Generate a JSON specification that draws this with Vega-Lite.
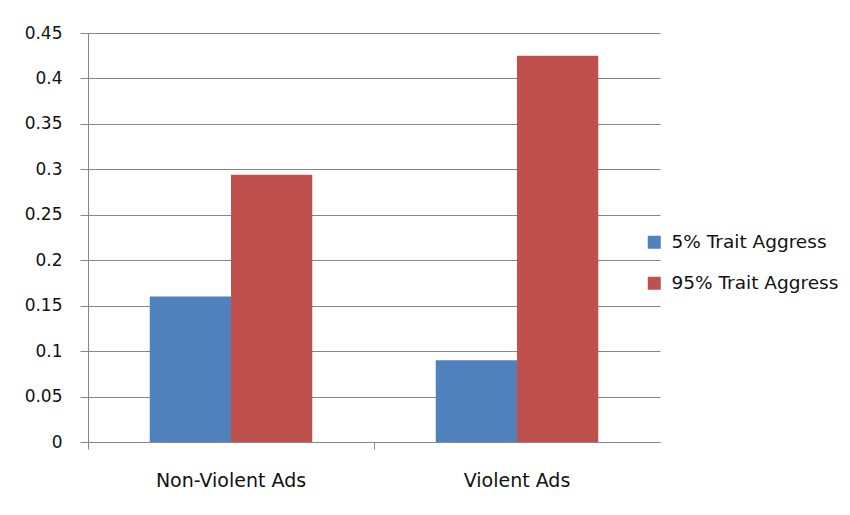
{
  "$schema": "https://vega.github.io/schema/vega-lite/v6.json",
  "autosize": "none",
  "width": 572,
  "height": 409,
  "padding": {"left": 88, "top": 33, "right": 190, "bottom": 73},
  "background": "white",
  "data": {
    "values": [
      {"ad": "Non-Violent Ads", "group": "5% Trait Aggress", "value": 0.16},
      {"ad": "Non-Violent Ads", "group": "95% Trait Aggress", "value": 0.294},
      {"ad": "Violent Ads", "group": "5% Trait Aggress", "value": 0.09},
      {"ad": "Violent Ads", "group": "95% Trait Aggress", "value": 0.425}
    ]
  },
  "mark": {"type": "bar"},
  "encoding": {
    "x": {
      "field": "ad", "type": "nominal", "title": null,
      "scale": {"paddingInner": 0, "paddingOuter": 0},
      "axis": {"labelAngle": 0, "bandPosition": 0, "tickSize": 7, "labelPadding": 22, "labelFontSize": 19, "grid": false}
    },
    "xOffset": {
      "field": "group", "type": "nominal",
      "scale": {"paddingInner": 0, "paddingOuter": 0.76}
    },
    "y": {
      "field": "value", "type": "quantitative", "title": null,
      "scale": {"domain": [0, 0.45]},
      "axis": {"values": [0, 0.05, 0.1, 0.15, 0.2, 0.25, 0.3, 0.35, 0.4, 0.45], "format": "~g", "tickSize": 8, "labelPadding": 18, "grid": true}
    },
    "color": {
      "field": "group", "type": "nominal",
      "scale": {"domain": ["5% Trait Aggress", "95% Trait Aggress"], "range": ["#4F81BD", "#C0504D"]},
      "legend": {"title": null, "orient": "none", "legendX": 557, "legendY": 200, "symbolType": "square", "symbolSize": 169, "symbolStrokeWidth": 0, "rowPadding": 22, "labelFontSize": 18.5, "labelOffset": 8, "labelLimit": 400, "labelFont": "DejaVu Sans", "labelColor": "#111111"}
    }
  },
  "config": {
    "view": {"stroke": null},
    "axis": {
      "domainColor": "#868686", "tickColor": "#868686", "gridColor": "#868686",
      "labelFont": "DejaVu Sans", "labelFontSize": 17, "labelColor": "#111111"
    }
  }
}
